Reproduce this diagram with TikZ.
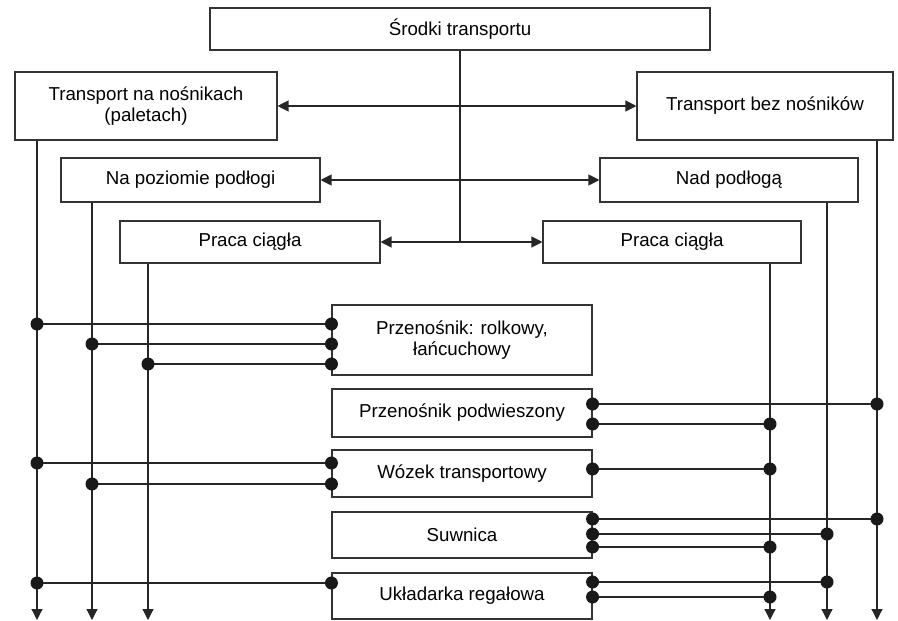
\documentclass[tikz,border=0pt]{standalone}
\usepackage{fontspec}
\setmainfont{Liberation Sans}
\usetikzlibrary{arrows.meta}
\begin{document}
\begin{tikzpicture}[x=1pt,y=-1pt,
  box/.style={draw=black!80, line width=1.1pt, align=center, inner sep=0pt,
    font=\fontsize{18.7}{21.5}\selectfont},
  ln/.style={line width=1.2pt, draw=black!85},
  dbl/.style={ln, {Triangle[width=11pt,length=11pt]}-{Triangle[width=11pt,length=11pt]}},
  down/.style={ln, -{Triangle[width=11pt,length=11pt]}},
  dot/.style={fill=black!90}
]
\useasboundingbox (0,0) rectangle (898,621);
% top level
\node[box, minimum width=500pt, minimum height=42pt] (root) at (460,29) {Środki transportu};
\node[box, minimum width=262pt, minimum height=68pt] (tn) at (146,106) {Transport na nośnikach\\(paletach)};
\node[box, minimum width=256pt, minimum height=68pt] (tb) at (765,106) {Transport bez nośników};
\node[box, minimum width=259pt, minimum height=44pt] (np) at (190.5,180) {Na poziomie podłogi};
\node[box, minimum width=258pt, minimum height=44pt] (nd) at (729,180) {Nad podłogą};
\node[box, minimum width=260pt, minimum height=42pt] (pl) at (250,242) {Praca ciągła};
\node[box, minimum width=258pt, minimum height=42pt] (pr) at (672,242) {Praca ciągła};
% middle boxes
\node[box, minimum width=260pt, minimum height=70pt] (m1) at (462,340) {Przenośnik: rolkowy,\\łańcuchowy};
\node[box, minimum width=260pt, minimum height=48pt] (m2) at (462,413) {Przenośnik podwieszony};
\node[box, minimum width=260pt, minimum height=47pt] (m3) at (462,473.5) {Wózek transportowy};
\node[box, minimum width=260pt, minimum height=46pt] (m4) at (462,535) {Suwnica};
\node[box, minimum width=260pt, minimum height=46pt] (m5) at (462,596) {Układarka regałowa};
% trunk and double arrows
\draw[ln] (root.south) -- (root.south |- pl.east);
\draw[dbl] (tn.east) -- (tb.west);
\draw[dbl] (np.east) -- (nd.west);
\draw[dbl] (pl.east) -- (pr.west);
% down lines
\coordinate (b1) at (37,620);
\coordinate (b2) at (92,620);
\coordinate (b3) at (148,620);
\coordinate (b4) at (770,620);
\coordinate (b5) at (827,620);
\coordinate (b6) at (877,620);
\draw[down] (tn.south -| b1) -- (b1);
\draw[down] (np.south -| b2) -- (b2);
\draw[down] (pl.south -| b3) -- (b3);
\draw[down] (pr.south -| b4) -- (b4);
\draw[down] (nd.south -| b5) -- (b5);
\draw[down] (tb.south -| b6) -- (b6);
% left connections
\foreach \m/\b/\y in {m1/b1/324, m1/b2/344, m1/b3/364, m3/b1/463, m3/b2/484, m5/b1/583} {
  \draw[ln] (\m.west |- 0,\y) coordinate (s) -- (\b |- 0,\y) coordinate (t);
  \fill[dot] (s) circle (6.5pt) (t) circle (6.5pt);
}
% right connections
\foreach \m/\b/\y in {m2/b6/404, m2/b4/424, m3/b4/469, m4/b6/519, m4/b5/534, m4/b4/547, m5/b5/582, m5/b4/597} {
  \draw[ln] (\m.east |- 0,\y) coordinate (s) -- (\b |- 0,\y) coordinate (t);
  \fill[dot] (s) circle (6.5pt) (t) circle (6.5pt);
}
\end{tikzpicture}
\end{document}
